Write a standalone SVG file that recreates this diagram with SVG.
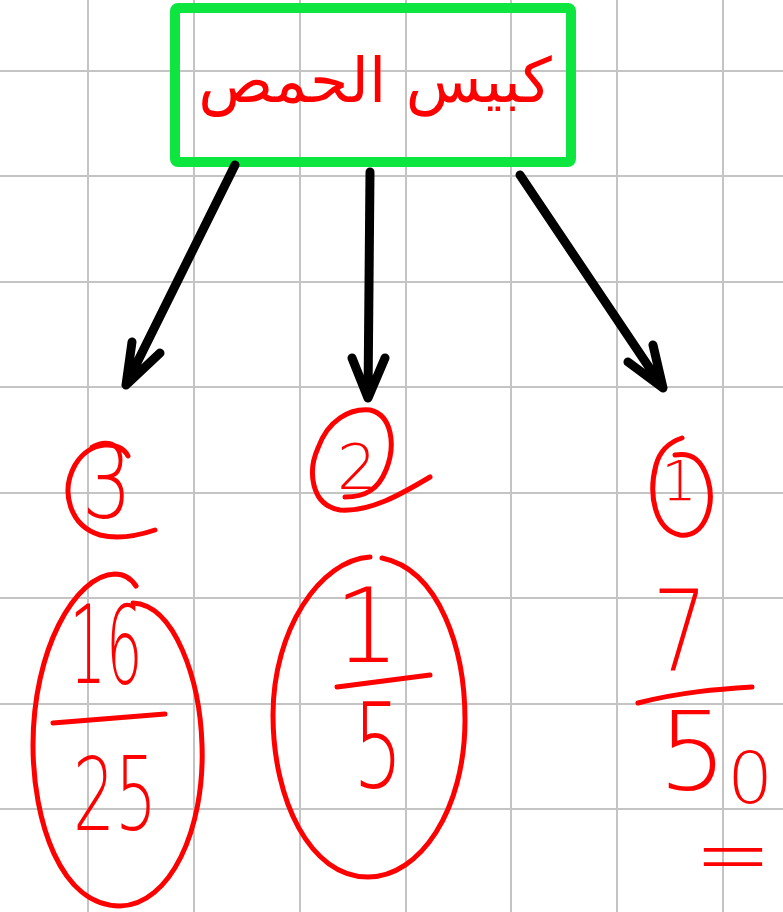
<svg xmlns="http://www.w3.org/2000/svg" width="783" height="912" viewBox="0 0 783 912">
<style>
.grid line{stroke:#c4c4c4;stroke-width:2}
.ink{fill:none;stroke:#ff0000;stroke-width:5;stroke-linecap:round;stroke-linejoin:round}
.num{fill:#ff0000;font-family:"DejaVu Sans","Liberation Sans",sans-serif;font-weight:200;text-anchor:middle}
.conn path{fill:none;stroke:#000;stroke-width:9;stroke-linecap:round;stroke-linejoin:round}
</style>
<rect width="783" height="912" fill="#fff"/>
<g class="grid">
<line x1="88" y1="0" x2="88" y2="912"/><line x1="194" y1="0" x2="194" y2="912"/><line x1="300" y1="0" x2="300" y2="912"/><line x1="406" y1="0" x2="406" y2="912"/><line x1="511" y1="0" x2="511" y2="912"/><line x1="617" y1="0" x2="617" y2="912"/><line x1="723" y1="0" x2="723" y2="912"/>
<line x1="0" y1="71" x2="783" y2="71"/><line x1="0" y1="176" x2="783" y2="176"/><line x1="0" y1="282" x2="783" y2="282"/><line x1="0" y1="387" x2="783" y2="387"/><line x1="0" y1="493" x2="783" y2="493"/><line x1="0" y1="598" x2="783" y2="598"/><line x1="0" y1="704" x2="783" y2="704"/><line x1="0" y1="809" x2="783" y2="809"/>
</g>
<g id="root">
<rect x="175" y="8" width="396" height="154" rx="3" fill="none" stroke="#0de63e" stroke-width="10"/>
<text x="375" y="102" fill="#ff0000" font-family="'DejaVu Sans',sans-serif" font-size="62" text-anchor="middle" direction="rtl">كبيس الحمص</text>
</g>
<g class="conn" id="connectors">
<path d="M235 165 L126 385 M132 342 L126 385 L160 353"/>
<path d="M370 172 L368 398 M352 358 L368 398 L385 358"/>
<path d="M520 175 L663 388 M628 362 L663 388 L653 345"/>
</g>
<g id="n3">
<path class="ink" d="M128 456 C120 440 90 440 75 465 C60 492 70 526 100 535 C120 540 140 535 155 530"/>
<text class="num" x="107" y="518" font-size="104" textLength="50" lengthAdjust="spacingAndGlyphs">3</text>
</g>
<g id="n2">
<path class="ink" d="M430 477 C400 495 370 512 340 510 C310 505 308 470 318 448 C328 420 350 408 370 410 C392 415 396 445 386 470 C378 490 365 497 345 497"/>
<text class="num" x="357" y="489" font-size="62" textLength="40" lengthAdjust="spacingAndGlyphs">2</text>
</g>
<g id="n1">
<path class="ink" d="M682 438 C670 442 660 450 656 465 C648 495 655 530 680 535 C705 538 715 505 708 480 C702 460 692 452 675 455"/>
<text class="num" x="679" y="500" font-size="56">1</text>
</g>
<g id="f16_25">
<path class="ink" d="M133 603 C175 605 200 680 202 745 C205 830 170 905 120 906 C60 906 33 820 33 745 C33 650 75 575 115 574 C125 574 132 580 136 586"/>
<text class="num" x="106" y="683" font-size="108" textLength="73" lengthAdjust="spacingAndGlyphs">16</text>
<path class="ink" d="M53 723 L165 714"/>
<text class="num" x="115" y="830" font-size="102" textLength="84" lengthAdjust="spacingAndGlyphs">25</text>
</g>
<g id="f1_5">
<path class="ink" d="M382 558 C440 570 465 650 465 720 C465 810 420 877 368 877 C310 877 273 800 273 715 C273 630 320 560 370 557"/>
<text class="num" x="367" y="662" font-size="103">1</text>
<path class="ink" d="M337 687 L430 675"/>
<text class="num" x="378" y="787" font-size="117" textLength="50" lengthAdjust="spacingAndGlyphs">5</text>
</g>
<g id="f7_50">
<text class="num" x="680" y="670" font-size="112" textLength="55" lengthAdjust="spacingAndGlyphs">7</text>
<path class="ink" d="M638 703 C680 692 720 689 752 687"/>
<text class="num" x="658" y="789" font-size="109" style="text-anchor:start">5<tspan font-size="72" dy="14">0</tspan></text>
<text class="num" x="733" y="886" font-size="90" textLength="78" lengthAdjust="spacingAndGlyphs">=</text>
</g>
</svg>
